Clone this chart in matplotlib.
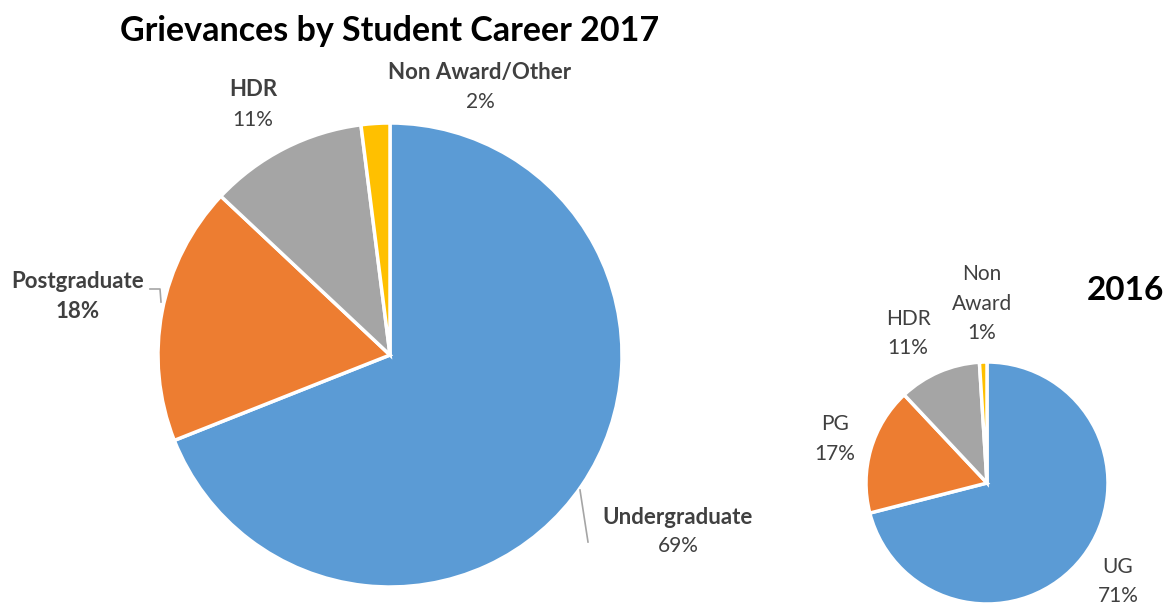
import matplotlib.pyplot as plt

# grievances share by student career (%)
careers_2017 = ["Undergraduate", "Postgraduate", "HDR", "Non Award/Other"]
share_2017 = [69, 18, 11, 2]

careers_2016 = ["UG", "PG", "HDR", "Non\nAward"]
share_2016 = [71, 17, 11, 1]

colors = ["#5B9BD5", "#ED7D31", "#A5A5A5", "#FFC000"]
label_color = "#404040"

W, H = 1166, 609
plt.rcParams["font.family"] = ["Lato", "DejaVu Sans"]

fig = plt.figure(figsize=(W / 100, H / 100), dpi=100)
ax = fig.add_axes([0, 0, 1, 1])


def py(y):
    # pixel row from the top -> data y
    return H - y


# 2017 pie
ax.pie(share_2017, colors=colors, startangle=90, counterclock=False,
       center=(390, py(355)), radius=232,
       wedgeprops=dict(edgecolor="white", linewidth=2.5))

# 2016 pie
ax.pie(share_2016, colors=colors, startangle=90, counterclock=False,
       center=(987, py(483)), radius=121,
       wedgeprops=dict(edgecolor="white", linewidth=2.5))
ax.set_xlim(0, W)
ax.set_ylim(0, H)
ax.set_aspect("equal")
ax.axis("off")

ax.text(390, py(31), "Grievances by Student Career 2017", ha="center", va="center",
        fontsize=24.5, fontweight="bold", color="black")
ax.text(1125, py(291), "2016", ha="center", va="center",
        fontsize=24, fontweight="bold", color="black")

LINE = 29.5

# 2017 labels: (x, y of name line, bold percentage?)
pos_2017 = [(678, 517, False), (78, 282, True), (253, 90, False), (480, 73, False)]
for name, val, (x, y, bold_pct) in zip(careers_2017, share_2017, pos_2017):
    ax.text(x, py(y), name, ha="center", va="center", fontsize=16,
            fontweight="bold", color=label_color)
    ax.text(x, py(y + LINE), f"{val}%", ha="center", va="center",
            fontsize=16 if bold_pct else 15,
            fontweight="bold" if bold_pct else "normal", color=label_color)

# leader lines
ax.plot([150, 160, 161], [py(289), py(289), py(302)], color="#A5A5A5", lw=1.2)
ax.plot([580, 588], [py(490), py(542)], color="#A5A5A5", lw=1.2)

# 2016 labels, one text per line
pos_2016 = [(1118, 567), (835, 424), (908, 319), (982, 274)]
for name, val, (x, y) in zip(careers_2016, share_2016, pos_2016):
    lines = name.split("\n") + [f"{val}%"]
    for i, s in enumerate(lines):
        ax.text(x, py(y + i * LINE), s, ha="center", va="center",
                fontsize=15, color=label_color)

fig.savefig("out.png", dpi=100)
